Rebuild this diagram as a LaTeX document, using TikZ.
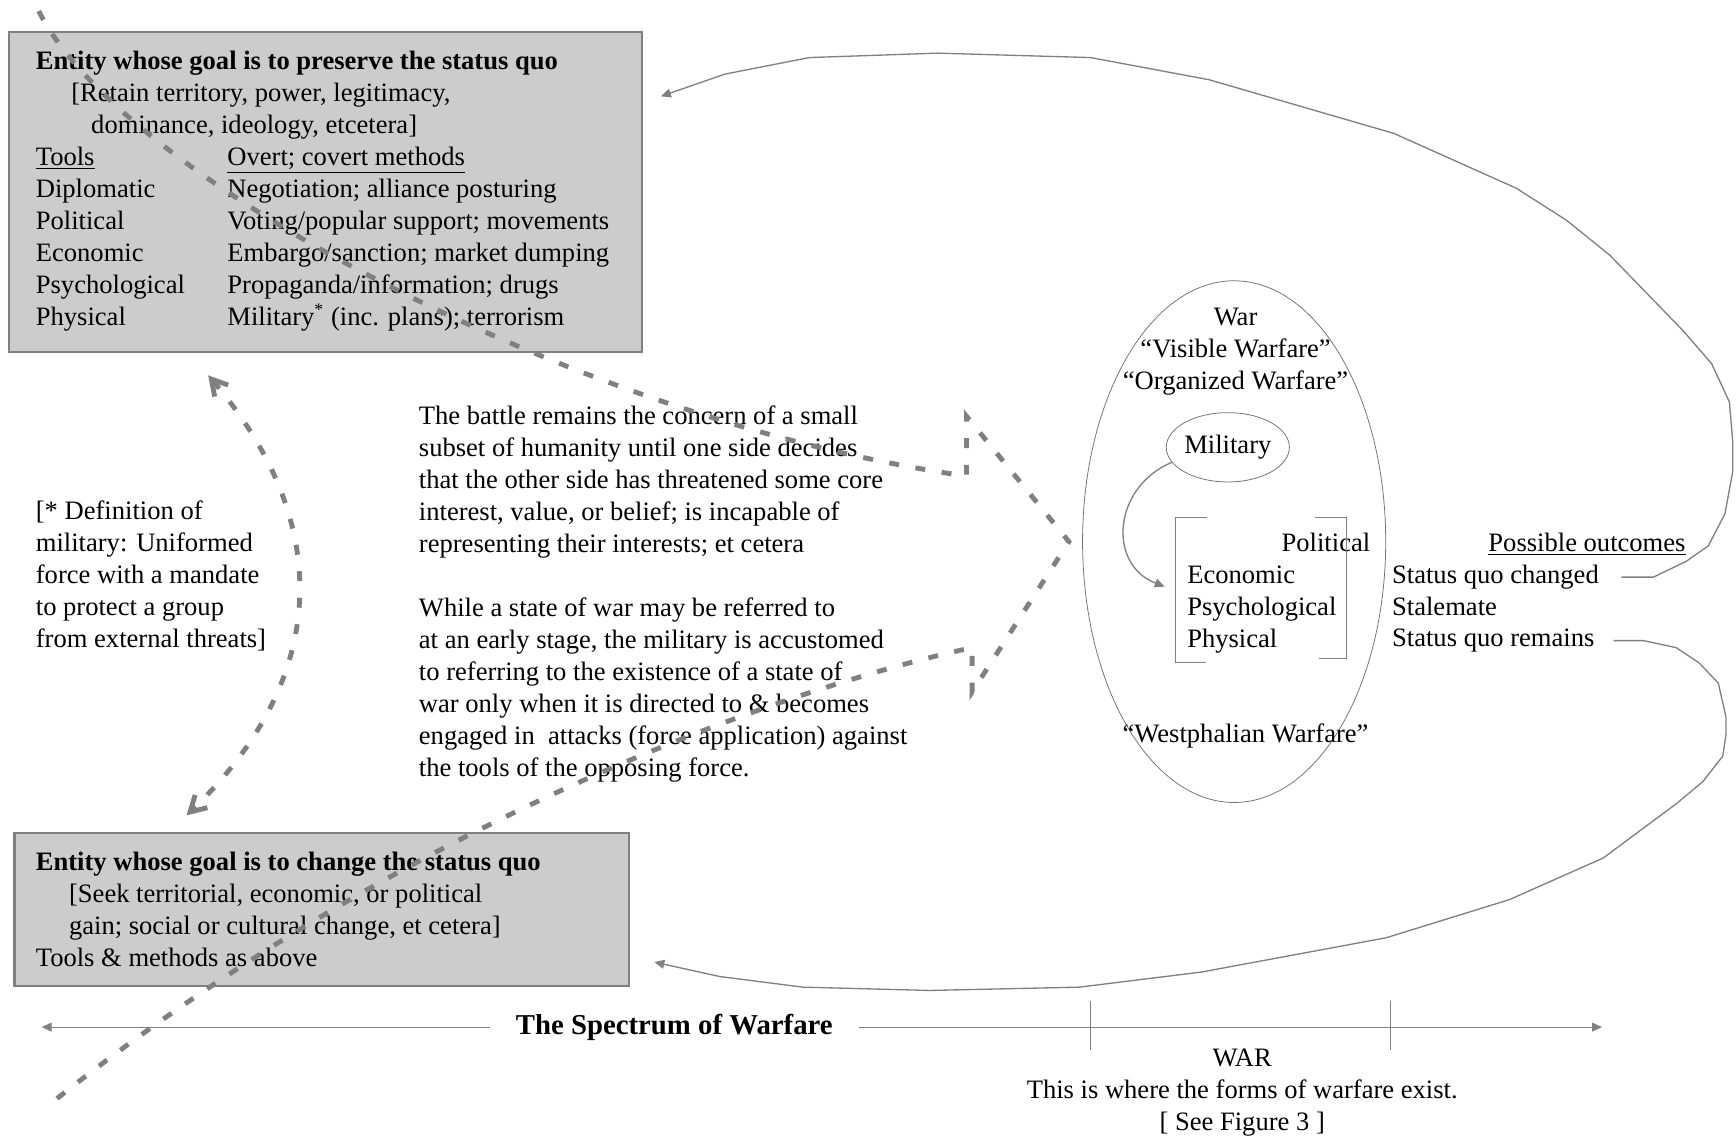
\documentclass[tikz,border=0pt]{standalone}
\usepackage{fontspec}
\setmainfont{Liberation Serif}
\usepackage{tikz}
\usetikzlibrary{arrows.meta,calc,shapes.geometric}

\definecolor{boxgray}{HTML}{CCCCCC}
\definecolor{linegray}{HTML}{808080}
\newcommand{\figfont}{\fontsize{12}{14.45}\selectfont}
\newcommand{\tool}[1]{\makebox[86.5pt][l]{#1}}

\begin{document}
\begin{tikzpicture}[x=0.5pt,y=-0.5pt,
    every node/.style={font=\figfont,inner sep=0pt},
    entity/.style={draw=linegray,line width=1pt,fill=boxgray,anchor=north west},
    txt/.style={align=left,anchor=north west},
    ctxt/.style={align=center,anchor=north},
    dashpath/.style={draw=linegray,line width=2.2pt,dash pattern=on 4.5pt off 7.5pt},
    barbs/.style={{Straight Barb[length=7pt,width=8pt]}-{Straight Barb[length=7pt,width=8pt]}},
    flow/.style={draw=linegray,line width=0.6pt,-{Triangle[length=4.5pt,width=4pt]}},
    rim/.style={draw=black!55,line width=0.35pt},
    brk/.style={draw=linegray,line width=0.5pt}]
  \useasboundingbox (0,0) rectangle (1568,1028);

  % the two entities
  \node[entity,minimum width=286pt,minimum height=144.5pt] (keep) at (7,28) {};
  \node[entity,minimum width=277.5pt,minimum height=69pt] (change) at (12,751.5) {};
  \node[txt] (keeptext) at (32,41.8) {\strut\textbf{Entity whose goal is to preserve the status quo}\\
    \hspace*{16pt}[Retain territory, power, legitimacy,\\
    \hspace*{25pt}dominance, ideology, etcetera]\\
    \tool{\underline{Tools}}\underline{Overt; covert methods}\\
    \tool{Diplomatic}Negotiation; alliance posturing\\
    \tool{Political}Voting/popular support; movements\\
    \tool{Economic}Embargo/sanction; market dumping\\
    \tool{Psychological}Propaganda/information; drugs\\
    \tool{Physical}Military\textsuperscript{*} (inc. plans); terrorism};
  \node[txt] (changetext) at (32,765.8) {\strut\textbf{Entity whose goal is to change the status quo}\\
    \hspace*{15pt}[Seek territorial, economic, or political\\
    \hspace*{15pt}gain; social or cultural change, et cetera]\\
    Tools \& methods as above};

  % notes
  \node[txt] (defn) at (32,448.8) {\strut[* Definition of\\military: Uniformed\\force with a mandate\\to protect a group\\from external threats]};
  \node[txt] (battle) at (378,362.8) {\strut The battle remains the concern of a small\\
    subset of humanity until one side decides\\
    that the other side has threatened some core\\
    interest, value, or belief; is incapable of\\
    representing their interests; et cetera\\[14.45pt]
    While a state of war may be referred to\\
    at an early stage, the military is accustomed\\
    to referring to the existence of a state of\\
    war only when it is directed to \& becomes\\
    engaged in\ \ attacks (force application) against\\
    the tools of the opposing force.};

  % war
  \node[ellipse,rim,minimum width=136.9pt,minimum height=235.6pt] (warzone) at (1114.7,489.2) {};
  \node[ctxt] (warlabel) at (1116,273.8) {\strut War\\``Visible Warfare''\\``Organized Warfare''};
  \node[anchor=base] (westph) at (1125,671) {``Westphalian Warfare''};
  \node[ellipse,rim,minimum width=53pt,minimum height=31.3pt] (mil) at (1109,404) {Military};
  \node[anchor=base east] (political) at (1238,498) {Political};
  \node[txt] (forms) at (1072,506.8) {\strut Economic\\Psychological\\Physical};
  \draw[brk] (1090,467.5) -| (1061.5,598.4) -- (1089,598.4);
  \draw[brk] (1188,467.5) -| (1216.5,595) -- (1191,595);

  % outcomes
  \node[anchor=base west] (outcomes) at (1344,498) {\underline{Possible outcomes}};
  \node[anchor=base west] (changed) at (1257,527) {Status quo changed};
  \node[anchor=base west] (stalemate) at (1257,555.5) {Stalemate};
  \node[anchor=base west] (remains) at (1257,584) {Status quo remains};

  % spectrum
  \node[font=\fontsize{13}{15.6}\selectfont\bfseries,inner xsep=11.5pt] (spectrum) at (609,927.7) {The Spectrum of Warfare};
  \node[ctxt] (warnote) at (1122,942.8) {\strut WAR\\This is where the forms of warfare exist.\\{}[ See Figure 3 ]};

  \coordinate (keepin) at ([shift={(16,59)}]keep.north east);
  \coordinate (changein) at ([shift={(22,117.5)}]change.north east);
  \coordinate (milin) at ([shift={(-20,23)}]forms.north west);
  \coordinate (specleft) at (37.6,927.7);
  \coordinate (specright) at (1447,927.7);
  \coordinate (chevtip) at ([xshift=-6pt]warzone.west);

  \draw[flow] (mil.195) .. controls (1005,440) and (1000,510) .. (milin);
  \draw[flow,line width=0.5pt] (spectrum.west) -- (specleft);
  \draw[flow,line width=0.5pt] (spectrum.east) -- (specright);
  \draw[brk] (985,904.5) -- (985,948.8);
  \draw[brk] (1256,904.5) -- (1256,948.8);

  % outcome loops
  \draw[flow] ([xshift=10pt]changed.east) -- ([xshift=24.5pt]changed.east) -- (1523,507) -- (1543,493)
    -- (1558,464) -- (1565,426) -- (1565,398) -- (1562,363) -- (1546,328.5) -- (1520,298.5)
    -- (1454,230.5) -- (1415,199) -- (1369.5,170) -- (1259,120.5) -- (1092,72) -- (985,52)
    -- (847,48) -- (731,52) -- (654.5,67) -- (keepin);
  \draw[flow] ([xshift=8.5pt]remains.east) -- ([xshift=22pt]remains.east) -- (1514,585) -- (1535,599)
    -- (1552,617) -- (1559,648) -- (1559,663) -- (1556,683) -- (1538,706) -- (1514,726)
    -- (1448,775) -- (1363.5,812.5) -- (1252,847) -- (1085,878) -- (975,891.6) -- (840,894.6)
    -- (725,891.6) -- (650,882) -- (changein);

  % dashed arrows
  \draw[dashpath] (35,10) .. controls (110,160) and (520,380) .. (873,430) -- (873,376) -- (chevtip)
    -- (878,625) -- (878,585) .. controls (760,610) and (400,715) .. (48,995);
  \draw[dashpath,barbs] ([shift={(-106,20)}]keep.south) .. controls (300,470) and (300,610) .. ([shift={(-122,-15)}]change.north);
\end{tikzpicture}
\end{document}
